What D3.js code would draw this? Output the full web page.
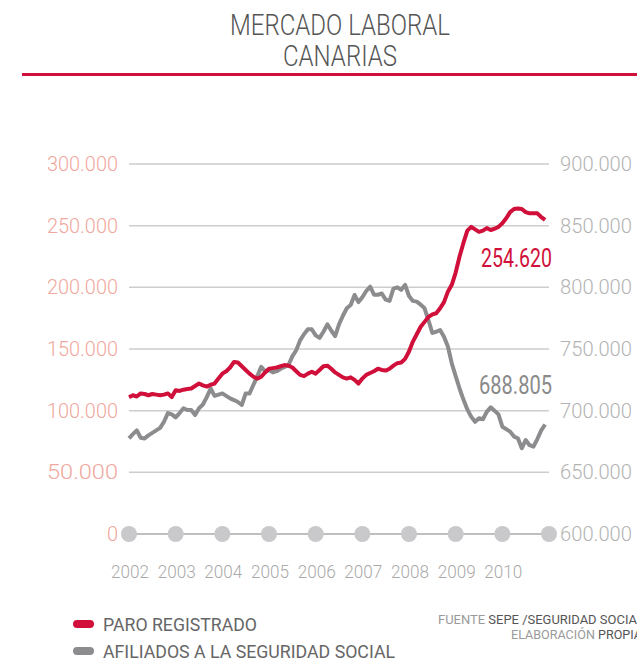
<!DOCTYPE html>
<html>
<head>
<meta charset="utf-8">
<script src="https://cdn.jsdelivr.net/npm/d3@7"></script>
<style>
  body { margin: 0; background: #fff; }
  text { font-family: Roboto, "Open Sans", sans-serif; }
</style>
</head>
<body>
<div id="chart"></div>
<script>
// monthly values, Jan 2002 .. Dec 2010
var paro = [
  110900, 112500, 111500, 114000, 113500, 112500, 113500, 113000, 112500, 113000, 114000, 111000,
  116500, 116000, 117000, 117500, 118000, 120000, 122000, 120500, 119500, 121000, 122000, 126000,
  130000, 132000, 135000, 139500, 139000, 136000, 133000, 130000, 127500, 126000, 127500, 131000,
  134000, 134500, 135000, 136000, 137000, 136500, 135000, 132000, 129000, 128000, 130000, 131500,
  130000, 133000, 136000, 136500, 134000, 131000, 129000, 127000, 126000, 127000, 125000, 122000,
  126000, 129000, 130500, 132000, 134000, 133000, 132500, 134000, 136500, 138500, 139000, 142000,
  148000, 156000, 162000, 168000, 172000, 176000, 178000, 179000, 183000, 188000, 196500, 202000,
  212000, 225000, 236000, 246000, 249000, 247000, 245000, 246000, 248000, 246500, 247500, 249000,
  252000, 256000, 261000, 263500, 264000, 263500, 261000, 260000, 260000, 260000, 257000, 254620
];

var afiliados = [
  677600, 681000, 684000, 678000, 677500, 680000, 682000, 684000, 686000, 691000, 698000, 697000,
  694600, 698000, 702000, 700500, 700500, 696500, 702000, 705000, 711000, 718000, 712000, 713000,
  714000, 712000, 710000, 708600, 707000, 704600, 714000, 714000, 721000, 728000, 735600, 732000,
  733000, 731000, 732000, 734000, 735500, 737000, 744000, 749000, 757000, 762000, 766000, 766000,
  761000, 759000, 764000, 770000, 765000, 760500, 770000, 777000, 783000, 785700, 793800, 788000,
  792000, 797000, 800500, 794000, 794000, 795000, 790000, 789000, 799000, 800000, 798000, 802000,
  793000, 789000, 788400, 786000, 783000, 773500, 763000, 764000, 765400, 760000, 752000, 738400,
  728000, 718000, 709000, 701000, 695000, 691000, 693800, 693000, 699000, 702700, 700000, 697000,
  687000, 685000, 683000, 679000, 677600, 669500, 676200, 672000, 670800, 677000, 684000, 688805
];

var years = [2002, 2003, 2004, 2005, 2006, 2007, 2008, 2009, 2010];
var leftTicks = [0, 50000, 100000, 150000, 200000, 250000, 300000];
var rightTicks = [600000, 650000, 700000, 750000, 800000, 850000, 900000];

var width = 637,
    height = 659;

var red = "#d0103a",
    grey = "#8c8c8f";

var svg = d3.select("#chart")
    .append("svg")
    .attr("width", width)
    .attr("height", height);

var fmt = d3.formatLocale({ decimal: ",", thousands: ".", grouping: [3], currency: ["", ""] }).format(",d");

// month index -> x
var x = d3.scaleLinear().domain([0, 108]).range([129, 549]);
var yLeft = d3.scaleLinear().domain([0, 300000]).range([534, 164]);
var yRight = d3.scaleLinear().domain([600000, 900000]).range([534, 164]);

// title
svg.append("text")
    .attr("x", 340).attr("y", 35)
    .attr("text-anchor", "middle")
    .attr("font-size", 29).attr("font-weight", 300)
    .attr("fill", "#555")
    .attr("textLength", 220).attr("lengthAdjust", "spacingAndGlyphs")
    .text("MERCADO LABORAL");
svg.append("text")
    .attr("x", 340).attr("y", 66)
    .attr("text-anchor", "middle")
    .attr("font-size", 29).attr("font-weight", 300)
    .attr("fill", "#555")
    .attr("textLength", 114).attr("lengthAdjust", "spacingAndGlyphs")
    .text("CANARIAS");
svg.append("rect")
    .attr("x", 22).attr("y", 73)
    .attr("width", width - 22).attr("height", 3)
    .attr("fill", red);

// gridlines
svg.append("g")
    .selectAll("line")
    .data(leftTicks.slice(1))
    .enter().append("line")
    .attr("x1", x(0)).attr("x2", x(108))
    .attr("y1", function (d) { return yLeft(d); })
    .attr("y2", function (d) { return yLeft(d); })
    .attr("stroke", "#cdcdcd")
    .attr("stroke-width", 1.5);

// left axis labels
svg.append("g")
    .selectAll("text")
    .data(leftTicks)
    .enter().append("text")
    .attr("x", 118)
    .attr("y", function (d) { return yLeft(d) + 7; })
    .attr("text-anchor", "end")
    .attr("font-size", 20).attr("font-weight", 300)
    .attr("fill", "#f0a79d")
    .each(function (d) {
        if (d > 0) d3.select(this).attr("textLength", 71).attr("lengthAdjust", "spacingAndGlyphs");
    })
    .text(function (d) { return fmt(d); });

// right axis labels
svg.append("g")
    .selectAll("text")
    .data(rightTicks)
    .enter().append("text")
    .attr("x", 560)
    .attr("y", function (d) { return yRight(d) + 7; })
    .attr("font-size", 20).attr("font-weight", 300)
    .attr("fill", "#b3b3b3")
    .attr("textLength", 72).attr("lengthAdjust", "spacingAndGlyphs")
    .text(function (d) { return fmt(d); });

// bottom axis with dots
svg.append("line")
    .attr("x1", x(0)).attr("x2", x(108))
    .attr("y1", yLeft(0)).attr("y2", yLeft(0))
    .attr("stroke", "#aaaaaa")
    .attr("stroke-width", 1.5);

svg.append("g")
    .selectAll("circle")
    .data(years.concat([2011]))
    .enter().append("circle")
    .attr("cx", function (d) { return x((d - 2002) * 12); })
    .attr("cy", yLeft(0))
    .attr("r", 8)
    .attr("fill", "#c9c9cb");

svg.append("g")
    .selectAll("text")
    .data(years)
    .enter().append("text")
    .attr("x", function (d) { return x((d - 2002) * 12) + 1; })
    .attr("y", 578)
    .attr("text-anchor", "middle")
    .attr("font-size", 18).attr("font-weight", 300)
    .attr("fill", "#aaaaaa")
    .attr("textLength", 38).attr("lengthAdjust", "spacingAndGlyphs")
    .text(function (d) { return d; });

// lines
var lineLeft = d3.line()
    .x(function (d, i) { return x(i); })
    .y(function (d) { return yLeft(d); });
var lineRight = d3.line()
    .x(function (d, i) { return x(i); })
    .y(function (d) { return yRight(d); });

svg.append("path")
    .datum(afiliados)
    .attr("d", lineRight)
    .attr("fill", "none")
    .attr("stroke", grey)
    .attr("stroke-width", 4)
    .attr("stroke-linejoin", "round");

svg.append("path")
    .datum(paro)
    .attr("d", lineLeft)
    .attr("fill", "none")
    .attr("stroke", red)
    .attr("stroke-width", 4)
    .attr("stroke-linejoin", "round");

// end value labels
svg.append("text")
    .attr("x", 552).attr("y", 267)
    .attr("text-anchor", "end")
    .attr("font-size", 25)
    .attr("fill", red)
    .attr("textLength", 71).attr("lengthAdjust", "spacingAndGlyphs")
    .text(fmt(paro[paro.length - 1]));
svg.append("text")
    .attr("x", 552).attr("y", 394)
    .attr("text-anchor", "end")
    .attr("font-size", 25)
    .attr("fill", "#8a8a8a")
    .attr("textLength", 73).attr("lengthAdjust", "spacingAndGlyphs")
    .text(fmt(afiliados[afiliados.length - 1]));

// legend
var legend = [
    { name: "PARO REGISTRADO", color: red, y: 624, len: 154 },
    { name: "AFILIADOS A LA SEGURIDAD SOCIAL", color: grey, y: 651, len: 292 }
];
var lg = svg.append("g").selectAll("g")
    .data(legend)
    .enter().append("g");
lg.append("line")
    .attr("x1", 77).attr("x2", 90)
    .attr("y1", function (d) { return d.y; })
    .attr("y2", function (d) { return d.y; })
    .attr("stroke", function (d) { return d.color; })
    .attr("stroke-width", 8)
    .attr("stroke-linecap", "round");
lg.append("text")
    .attr("x", 103)
    .attr("y", function (d) { return d.y + 6.5; })
    .attr("font-size", 18)
    .attr("fill", "#666")
    .attr("textLength", function (d) { return d.len; })
    .attr("lengthAdjust", "spacingAndGlyphs")
    .text(function (d) { return d.name; });

// source
var src1 = svg.append("text")
    .attr("x", 438).attr("y", 624)
    .attr("font-size", 12.5)
    .attr("textLength", 206).attr("lengthAdjust", "spacingAndGlyphs");
src1.append("tspan").attr("fill", "#9a9a9a").text("FUENTE ");
src1.append("tspan").attr("fill", "#555").text("SEPE /SEGURIDAD SOCIAL");

var src2 = svg.append("text")
    .attr("x", 511).attr("y", 639)
    .attr("font-size", 12.5)
    .attr("textLength", 131).attr("lengthAdjust", "spacingAndGlyphs");
src2.append("tspan").attr("fill", "#9a9a9a").text("ELABORACIÓN ");
src2.append("tspan").attr("fill", "#555").text("PROPIA");
</script>
</body>
</html>
